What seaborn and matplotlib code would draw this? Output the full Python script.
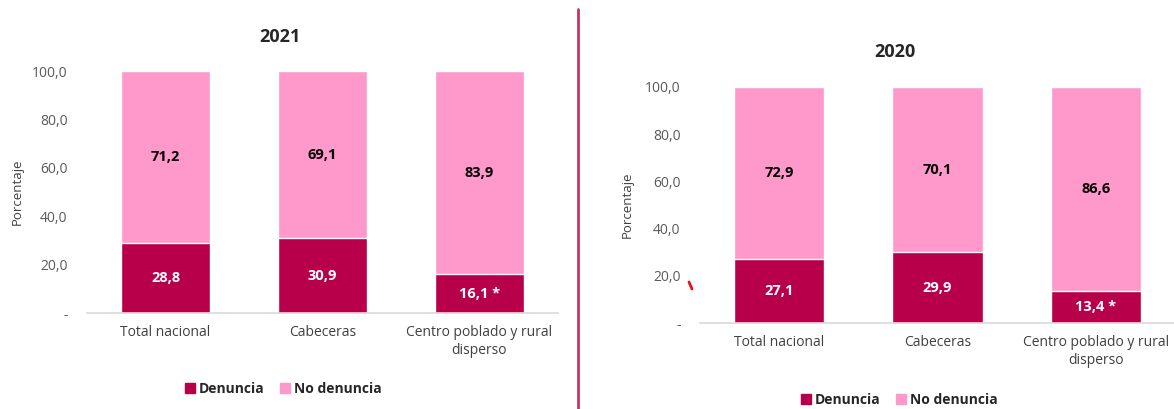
import matplotlib
matplotlib.use("Agg")
import matplotlib.pyplot as plt
import pandas as pd
import seaborn as sns
from matplotlib.lines import Line2D
from matplotlib.patches import Patch

CATEGORIAS = ["Total nacional", "Cabeceras", "Centro poblado y rural\ndisperso"]
DENUNCIA_2021 = [28.8, 30.9, 16.1]
NO_DENUNCIA_2021 = [71.2, 69.1, 83.9]
DENUNCIA_2020 = [27.1, 29.9, 13.4]
NO_DENUNCIA_2020 = [72.9, 70.1, 86.6]
MARCAS = ["", "", " *"]
Y_TICKS = [0, 20, 40, 60, 80, 100]
Y_TICK_LABELS = ["-", "20,0", "40,0", "60,0", "80,0", "100,0"]

CRIMSON = "#B8004A"
PINK = "#FF99CC"
GRAY = "#595959"

sns.set_style("white")
plt.rcParams["font.family"] = ["Open Sans", "DejaVu Sans"]

W, H = 1174, 409


def fx(px):
    return px / W


def fy(py):
    return 1 - py / H


def fmt(v):
    return f"{v:.1f}".replace(".", ",")


def draw_panel(fig, rect, denuncia, no_denuncia):
    ax = fig.add_axes(rect)
    df = pd.DataFrame({
        "categoria": CATEGORIAS,
        "denuncia": denuncia,
        "total": [d + n for d, n in zip(denuncia, no_denuncia)],
    })
    sns.barplot(data=df, x="categoria", y="total", color=PINK, saturation=1,
                width=0.57, ax=ax)
    sns.barplot(data=df, x="categoria", y="denuncia", color=CRIMSON,
                saturation=1, width=0.57, ax=ax)
    for i, (d, n) in enumerate(zip(denuncia, no_denuncia)):
        ax.text(i, d / 2, fmt(d) + MARCAS[i], ha="center", va="center",
                color="white", fontsize=10.5, fontweight="bold")
        ax.text(i, d + n / 2, fmt(n), ha="center", va="center",
                color="black", fontsize=10.5, fontweight="bold")
    ax.set_xlim(-0.5, 2.5)
    ax.set_ylim(0, 100)
    ax.set_yticks(Y_TICKS)
    ax.set_yticklabels(Y_TICK_LABELS, color=GRAY, fontsize=10)
    ax.set_xlabel("")
    ax.set_ylabel("")
    ax.tick_params(axis="y", length=0, pad=14)
    ax.tick_params(axis="x", length=0, pad=9, labelsize=10, colors="#404040")
    sns.despine(ax=ax, left=True)
    ax.spines["bottom"].set_color("#D9D9D9")
    ax.spines["bottom"].set_linewidth(1.2)
    return ax


def add_legend(fig, cx, cy):
    handles = [Patch(color=CRIMSON, label="Denuncia"),
               Patch(color=PINK, label="No denuncia")]
    fig.legend(handles=handles, loc="center", bbox_to_anchor=(cx, cy), ncol=2,
               frameon=False, handlelength=0.75, handleheight=0.75,
               handletextpad=0.25, columnspacing=1.1,
               prop={"weight": "bold", "size": 10})


def main():
    fig = plt.figure(figsize=(W / 100, H / 100), dpi=100)

    draw_panel(fig, [fx(87), fy(313), fx(558) - fx(87), 242 / H],
               DENUNCIA_2021, NO_DENUNCIA_2021)
    draw_panel(fig, [fx(700), fy(323), fx(1175) - fx(700), 236 / H],
               DENUNCIA_2020, NO_DENUNCIA_2020)

    fig.text(fx(280), fy(37), "2021", ha="center", va="center",
             fontsize=13, fontweight="bold")
    fig.text(fx(895), fy(52), "2020", ha="center", va="center",
             fontsize=13, fontweight="bold")
    fig.text(fx(17), fy(192), "Porcentaje", rotation=90, ha="center",
             va="center", fontsize=9.5, color="#404040")
    fig.text(fx(627), fy(205), "Porcentaje", rotation=90, ha="center",
             va="center", fontsize=9.5, color="#404040")

    add_legend(fig, fx(283), fy(389))
    add_legend(fig, fx(899), fy(400))

    # separator between the two years and the stray red mark
    fig.add_artist(Line2D([fx(577.5), fx(577.5)], [fy(9), 0],
                          color="#C8336A", lw=2))
    fig.add_artist(Line2D([fx(689), fx(692)], [fy(282), fy(289)],
                          color="#E8101A", lw=2, solid_capstyle="round"))

    fig.savefig("out.png", dpi=100)
    plt.close(fig)


if __name__ == "__main__":
    main()
